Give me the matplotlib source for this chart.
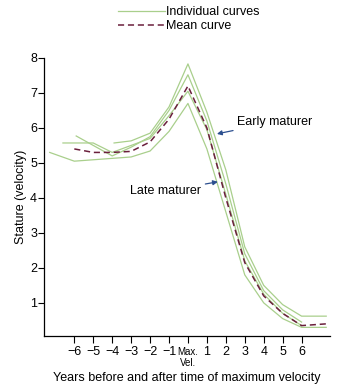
import numpy as np
import matplotlib.pyplot as plt

plt.rcParams['font.family'] = ['Liberation Sans', 'DejaVu Sans']

# individual curves (years relative to max velocity, stature velocity)
c1_x = [-3.9, -3, -2, -1, 0, 1, 2, 3, 4, 5, 6, 7.3]
c1_y = [5.57, 5.63, 5.85, 6.6, 7.83, 6.45, 4.8, 2.6, 1.5, 0.95, 0.62, 0.62]
c2_x = [-5.9, -4, -3, -2, -1, 0, 1, 2, 3, 4, 5, 6]
c2_y = [5.77, 5.2, 5.45, 5.75, 6.5, 7.52, 6.2, 4.4, 2.4, 1.35, 0.8, 0.45]
c3_x = [-6.6, -5, -4, -3, -2, -1, 0, 1, 2, 3, 4, 5, 6]
c3_y = [5.57, 5.57, 5.3, 5.5, 5.7, 6.35, 7.05, 5.95, 4.1, 2.2, 1.25, 0.7, 0.35]
c4_x = [-7.3, -6, -3, -2, -1, 0, 1, 2, 3, 4, 5, 6, 7.3]
c4_y = [5.3, 5.05, 5.17, 5.34, 5.9, 6.7, 5.4, 3.6, 1.8, 1.0, 0.55, 0.3, 0.3]
individual = [(c1_x, c1_y), (c2_x, c2_y), (c3_x, c3_y), (c4_x, c4_y)]

mean_x = [-6, -5, -4, -3, -2, -1, 0, 1, 2, 3, 4, 5, 6, 7.3]
mean_y = [5.4, 5.3, 5.3, 5.33, 5.6, 6.25, 7.2, 6.0, 4.0, 2.15, 1.2, 0.7, 0.35, 0.4]

tick_pos = [-6, -5, -4, -3, -2, -1, 0, 1, 2, 3, 4, 5, 6]
tick_lab = ['\u22126', '\u22125', '\u22124', '\u22123', '\u22122', '\u22121', '', '1', '2', '3', '4', '5', '6']

green = '#a9cf8c'
maroon = '#6a1f3c'
blue = '#2c4f8f'

fig = plt.figure(figsize=(3.52, 3.89), dpi=100)
ax = fig.add_axes([0.125, 0.136, 0.8125, 0.715])

for i, (xs, ys) in enumerate(individual):
    ax.plot(xs, ys, color=green, lw=0.9, label='Individual curves' if i == 0 else None)
ax.plot(mean_x, mean_y, color=maroon, lw=1.1, ls=(0, (4, 2.5)), label='Mean curve')

ax.set_xlim(-7.6, 7.5)
ax.set_ylim(0.05, 8)
ax.set_xticks(tick_pos)
ax.set_xticklabels(tick_lab, fontsize=9)
ax.set_yticks([1, 2, 3, 4, 5, 6, 7, 8])
ax.tick_params(axis='y', labelsize=9, length=4, width=0.8, pad=1)
ax.tick_params(axis='x', length=5, width=0.8, pad=2)
ax.text(0, -0.27, 'Max.\nVel.', ha='center', va='top', fontsize=7, linespacing=1.05)
for s in ['top', 'right']:
    ax.spines[s].set_visible(False)
for s in ['left', 'bottom']:
    ax.spines[s].set_linewidth(0.9)

ax.set_ylabel('Stature (velocity)', fontsize=9, labelpad=2)
ax.set_xlabel('Years before and after time of maximum velocity', fontsize=9, labelpad=10)

ax.annotate('Early maturer', xy=(1.53, 5.83), xytext=(2.6, 6.17), fontsize=9,
            va='center', ha='left',
            arrowprops=dict(arrowstyle='-|>', color=blue, lw=0.9, shrinkA=1, shrinkB=0,
                            mutation_scale=7))
ax.annotate('Late maturer', xy=(1.58, 4.46), xytext=(0.7, 4.2), fontsize=9,
            va='center', ha='right',
            arrowprops=dict(arrowstyle='-|>', color=blue, lw=0.9, shrinkA=1, shrinkB=0,
                            mutation_scale=7))

fig.legend(loc='upper left', bbox_to_anchor=(0.322, 0.997), frameon=False, fontsize=9,
           handlelength=3.7, handletextpad=0.1, labelspacing=0.15, borderaxespad=0)

fig.savefig('out.png', dpi=100)
